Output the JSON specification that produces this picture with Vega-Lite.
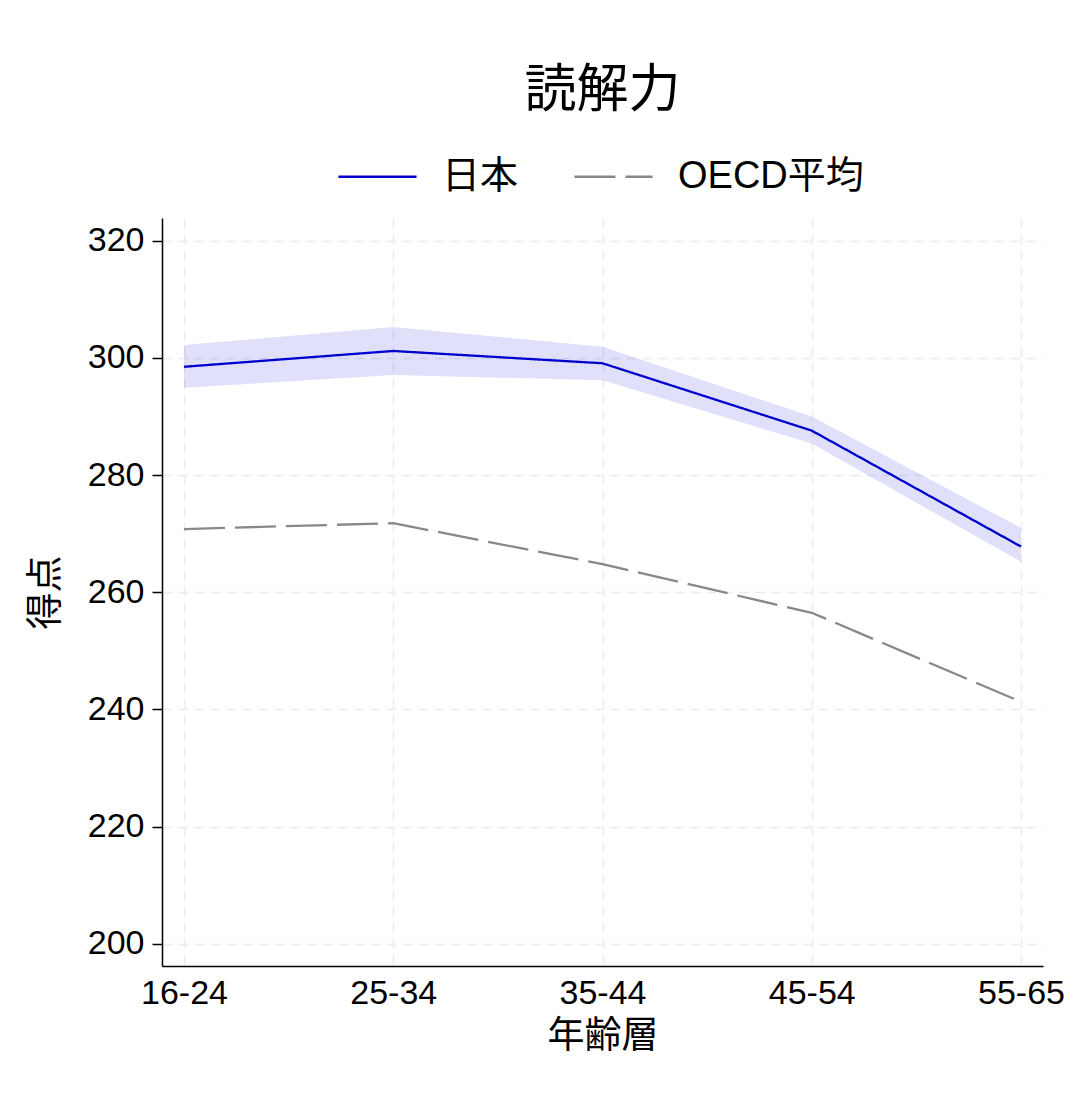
{
  "$schema": "https://vega.github.io/schema/vega-lite/v6.json",
  "autosize": "none",
  "width": 881,
  "height": 748,
  "padding": {"left": 162, "top": 218, "right": 37, "bottom": 140},
  "background": "white",
  "title": {
    "text": "読解力",
    "fontSize": 52,
    "fontWeight": "normal",
    "font": "Liberation Sans, Noto Sans CJK JP",
    "color": "black",
    "anchor": "middle",
    "frame": "group",
    "offset": 18
  },
  "data": {
    "values": [
      {"series": "日本", "age": "16-24", "score": 298.5, "lo": 294.9, "hi": 302.2},
      {"series": "日本", "age": "25-34", "score": 301.2, "lo": 297.1, "hi": 305.3},
      {"series": "日本", "age": "35-44", "score": 299.1, "lo": 296.2, "hi": 301.9},
      {"series": "日本", "age": "45-54", "score": 287.6, "lo": 285.4, "hi": 290.0},
      {"series": "日本", "age": "55-65", "score": 267.8, "lo": 265.2, "hi": 271.0},
      {"series": "OECD平均", "age": "16-24", "score": 270.8},
      {"series": "OECD平均", "age": "25-34", "score": 271.8},
      {"series": "OECD平均", "age": "35-44", "score": 264.8},
      {"series": "OECD平均", "age": "45-54", "score": 256.5},
      {"series": "OECD平均", "age": "55-65", "score": 241.3}
    ]
  },
  "encoding": {
    "x": {
      "field": "age",
      "type": "ordinal",
      "scale": {"type": "point", "padding": 0.105},
      "axis": {
        "title": "年齢層",
        "labelAngle": 0,
        "ticks": false,
        "labelPadding": 10,
        "titlePadding": 8
      }
    }
  },
  "layer": [
    {
      "transform": [{"filter": "datum.series === '日本'"}],
      "mark": {"type": "area", "color": "#0000dd", "opacity": 0.12},
      "encoding": {
        "y": {"field": "lo", "type": "quantitative"},
        "y2": {"field": "hi"}
      }
    },
    {
      "mark": {"type": "line", "strokeWidth": 2.3},
      "encoding": {
        "y": {
          "field": "score",
          "type": "quantitative",
          "scale": {"domain": [196.2, 323.9], "nice": false, "zero": false},
          "axis": {
            "title": "得点",
            "values": [200, 220, 240, 260, 280, 300, 320],
            "tickSize": 10,
            "labelPadding": 8,
            "titlePadding": 22
          }
        },
        "color": {
          "field": "series",
          "type": "nominal",
          "scale": {"domain": ["日本", "OECD平均"], "range": ["#0000cc", "#888888"]},
          "legend": {
            "title": null,
            "orient": "none",
            "direction": "horizontal",
            "legendX": 175,
            "legendY": -82,
            "symbolType": "stroke",
            "symbolSize": 6100,
            "symbolStrokeWidth": 2.5,
            "labelFontSize": 38,
            "labelOffset": 24,
            "labelLimit": 400,
            "columnPadding": 50
          }
        },
        "strokeDash": {
          "field": "series",
          "type": "nominal",
          "scale": {"domain": ["日本", "OECD平均"], "range": [[1, 0], [41, 10]]},
          "legend": null
        }
      }
    }
  ],
  "config": {
    "font": "Liberation Sans, Noto Sans CJK JP",
    "view": {"stroke": null},
    "axis": {
      "domainColor": "black",
      "domainWidth": 1.5,
      "tickColor": "black",
      "tickWidth": 1.5,
      "labelColor": "black",
      "labelFontSize": 34,
      "titleFontSize": 37,
      "titleFontWeight": "normal",
      "titleColor": "black",
      "grid": true,
      "gridColor": "#ececec",
      "gridDash": [10, 6],
      "gridWidth": 1.5
    },
    "legend": {
      "labelColor": "black",
      "labelFont": "Liberation Sans, Noto Sans CJK JP"
    }
  }
}
